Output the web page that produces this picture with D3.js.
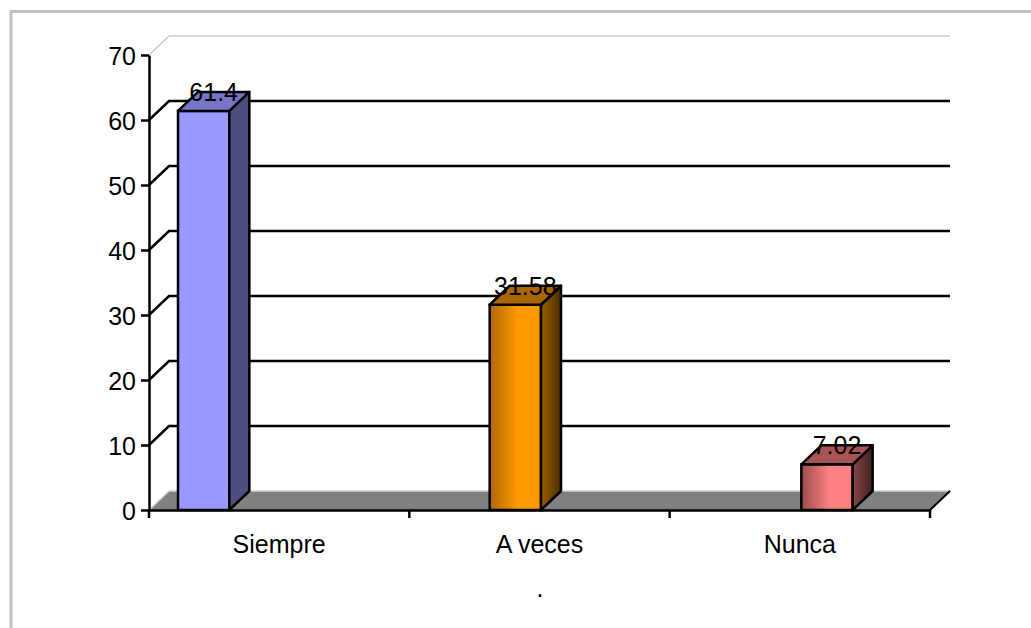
<!DOCTYPE html>
<html>
<head>
<meta charset="utf-8">
<script src="https://cdn.jsdelivr.net/npm/d3@7"></script>
<style>
  body { margin: 0; background: #fff; }
  svg { display: block; font-family: "Liberation Sans", Arial, sans-serif; }
</style>
</head>
<body>
<div id="chart"></div>
<script>
const categories = ['Siempre', 'A veces', 'Nunca'];
const values = [61.4, 31.58, 7.02];
const yTicks = [0, 10, 20, 30, 40, 50, 60, 70];
const footnote = '.';

// front face, side face, top face, gradient dark edge
const palette = [
    { front: '#9999ff', dark: '#9999ff', side: '#4d4d80', sideDark: '#4d4d80', top: '#7676c8' },
    { front: '#ff9900', dark: '#b06800', side: '#9a5c00', sideDark: '#4d2e00', top: '#a86600' },
    { front: '#ff8080', dark: '#9a4d4d', side: '#8a4545', sideDark: '#3f2020', top: '#a85454' }
];

const width = 1031, height = 628;
const depth = { dx: 20, dy: -19 };
const fontSize = '25px';

const svg = d3.select('#chart').append('svg')
    .attr('width', width)
    .attr('height', height);

// outer border
svg.append('rect')
    .attr('x', 11).attr('y', 11.5)
    .attr('width', width + 20).attr('height', height + 20)
    .attr('fill', 'none')
    .attr('stroke', '#c0c0c0')
    .attr('stroke-width', 3);

const xScale = d3.scaleBand()
    .domain(categories)
    .range([149, 930]);

const seriesScale = d3.scaleBand()
    .domain(categories)
    .range([29, 183]);

const yScale = d3.scaleLinear()
    .domain([0, 70])
    .range([510, 55]);

const defs = svg.append('defs');
palette.forEach((p, i) => {
    const g = defs.append('linearGradient').attr('id', 'front' + i)
        .attr('x1', '0%').attr('x2', '100%').attr('y1', '0%').attr('y2', '0%');
    g.append('stop').attr('offset', '0%').attr('stop-color', p.dark);
    g.append('stop').attr('offset', '55%').attr('stop-color', p.front);
    g.append('stop').attr('offset', '100%').attr('stop-color', p.front);
    const s = defs.append('linearGradient').attr('id', 'side' + i)
        .attr('x1', '0%').attr('x2', '100%').attr('y1', '0%').attr('y2', '0%');
    s.append('stop').attr('offset', '0%').attr('stop-color', p.side);
    s.append('stop').attr('offset', '100%').attr('stop-color', p.sideDark);
});

const x0 = xScale.range()[0], x1 = xScale.range()[1];
const y0 = yScale(0);

// floor
svg.append('path')
    .attr('d', `M${x0},${y0}L${x1},${y0}L${x1 + depth.dx},${y0 + depth.dy}L${x0 + depth.dx},${y0 + depth.dy}Z`)
    .attr('fill', '#808080');
svg.append('line')
    .attr('x1', x0).attr('y1', y0)
    .attr('x2', x0 + depth.dx).attr('y2', y0 + depth.dy)
    .attr('stroke', '#d8d8d8').attr('stroke-width', 1.5);
svg.append('line')
    .attr('x1', x0 + depth.dx).attr('y1', y0 + depth.dy)
    .attr('x2', x1 + depth.dx).attr('y2', y0 + depth.dy)
    .attr('stroke', '#d0d0d0').attr('stroke-width', 1.5);
svg.append('line')
    .attr('x1', x1).attr('y1', y0)
    .attr('x2', x1 + depth.dx).attr('y2', y0 + depth.dy)
    .attr('stroke', '#000').attr('stroke-width', 2);

// gridlines on back wall + connectors to the axis
const grid = yTicks.filter(t => t > 0);
svg.selectAll('.grid')
    .data(grid)
    .enter().append('path')
    .attr('class', 'grid')
    .attr('d', d => `M${x0},${yScale(d)}L${x0 + depth.dx},${yScale(d) + depth.dy}L${x1 + depth.dx},${yScale(d) + depth.dy}`)
    .attr('fill', 'none')
    .attr('stroke', d => d === 70 ? '#c8c8c8' : '#000')
    .attr('stroke-width', d => d === 70 ? 1.5 : 2.5);

// y axis
const yAxis = svg.append('g')
    .attr('transform', `translate(${x0}, 0)`)
    .call(d3.axisLeft(yScale).tickValues(yTicks).tickSize(8).tickSizeOuter(0).tickPadding(5));
yAxis.select('.domain').attr('stroke-width', 2.5);
yAxis.selectAll('line').attr('stroke-width', 2.5);
yAxis.selectAll('text')
    .attr('fill', '#000')
    .attr('dy', '0.38em')
    .style('font-size', fontSize)
    .style('font-family', '"Liberation Sans", Arial, sans-serif');

// x axis
const xAxis = svg.append('g')
    .attr('transform', `translate(0, ${y0})`)
    .call(d3.axisBottom(xScale).tickSize(0).tickPadding(25));
xAxis.select('.domain').attr('stroke-width', 2.5);
xAxis.selectAll('text')
    .attr('fill', '#000')
    .style('font-size', fontSize)
    .style('font-family', '"Liberation Sans", Arial, sans-serif');
const bounds = categories.map(c => xScale(c)).concat([x1]);
xAxis.selectAll('.bound')
    .data(bounds)
    .enter().append('line')
    .attr('class', 'bound')
    .attr('x1', d => d).attr('x2', d => d)
    .attr('y1', 0).attr('y2', 8)
    .attr('stroke', '#000').attr('stroke-width', 2.5);

// bars
const bars = svg.selectAll('.bar')
    .data(values)
    .enter().append('g')
    .attr('class', 'bar');

bars.each(function(v, i) {
    const g = d3.select(this);
    const c = categories[i];
    const bx = xScale(c) + seriesScale(c);
    const bw = seriesScale.bandwidth();
    const yt = yScale(v);
    g.append('rect')
        .attr('x', bx).attr('y', yt)
        .attr('width', bw).attr('height', y0 - yt)
        .attr('fill', `url(#front${i})`)
        .attr('stroke', '#000').attr('stroke-width', 2.5);
    g.append('path')
        .attr('d', `M${bx + bw},${yt}L${bx + bw + depth.dx},${yt + depth.dy}L${bx + bw + depth.dx},${y0 + depth.dy}L${bx + bw},${y0}Z`)
        .attr('fill', `url(#side${i})`)
        .attr('stroke', '#000').attr('stroke-width', 2.5).attr('stroke-linejoin', 'round');
    g.append('path')
        .attr('d', `M${bx},${yt}L${bx + depth.dx},${yt + depth.dy}L${bx + bw + depth.dx},${yt + depth.dy}L${bx + bw},${yt}Z`)
        .attr('fill', palette[i].top)
        .attr('stroke', '#000').attr('stroke-width', 2.5).attr('stroke-linejoin', 'round');
});

// data labels
svg.selectAll('.label')
    .data(values)
    .enter().append('text')
    .attr('class', 'label')
    .attr('x', (d, i) => xScale(categories[i]) + seriesScale(categories[i]) + seriesScale.bandwidth() / 2 + depth.dx / 2)
    .attr('y', d => yScale(d) - 10)
    .attr('text-anchor', 'middle')
    .style('font-size', fontSize)
    .attr('fill', '#000')
    .text(d => d);

svg.append('text')
    .attr('x', 540)
    .attr('y', 597)
    .attr('text-anchor', 'middle')
    .style('font-size', fontSize)
    .text(footnote);
</script>
</body>
</html>
